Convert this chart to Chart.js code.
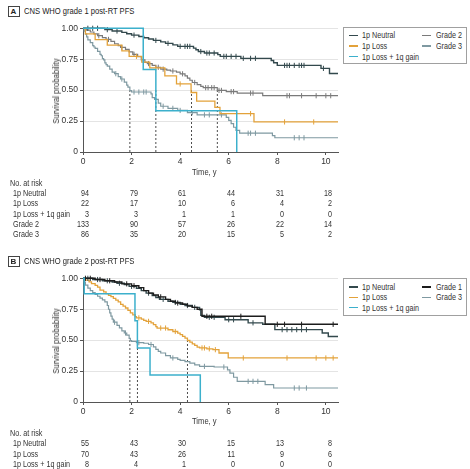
<!DOCTYPE html>
<html><head><meta charset="utf-8">
<script src="https://cdn.jsdelivr.net/npm/chart.js@4/dist/chart.umd.min.js"></script>
<style>
body{margin:0;background:#fff;}
#page{position:relative;width:470px;height:469px;overflow:hidden;font-family:'Liberation Sans',Arial,sans-serif;color:#333;}
.t{position:absolute;white-space:nowrap;font-size:9px;line-height:10px;transform:scaleX(0.8);transform-origin:0 50%;}
.r{transform-origin:100% 50%;}
canvas{position:absolute;}
.lg{position:absolute;border:1.5px solid #a0a0a0;background:#fff;box-sizing:border-box;}
.sw{position:absolute;height:1.2px;width:9px;}
.box{position:absolute;border:1px solid #444;width:12px;height:11px;box-sizing:border-box;font-weight:bold;font-size:8px;line-height:9px;text-align:center;color:#222;}
.yt{position:absolute;white-space:nowrap;font-size:9.5px;line-height:10px;transform:translate(-50%,-50%) rotate(-90deg) scaleX(0.82);}
</style></head>
<body><div id="page"></div>
<script>
const FONT = "'Liberation Sans',Arial,sans-serif";
const X_TICKS = [0, 2, 4, 6, 8, 10];
const X_MAX = 10.5;
const Y_TICKS = [0, 0.25, 0.5, 0.75, 1];
const Y_LABELS = ['0', '0.25', '0.50', '0.75', '1.00'];

// Panel A series: [time, survival, censored?]
const A_neutral = [[0,1],[0.2,1,1],[0.4,1,1],[0.6,1,1],[0.9,0.989],[1.0,0.989,1],[1.2,0.978],[1.4,0.978,1],[1.6,0.967],[1.8,0.956],[2.0,0.945],[2.1,0.945,1],[2.3,0.934],[2.5,0.923],[2.7,0.913],[2.9,0.902],[3.0,0.902,1],[3.2,0.89],[3.4,0.878],[3.5,0.878,1],[3.7,0.866],[3.9,0.854],[4.0,0.854,1],[4.2,0.854,1],[4.3,0.854,1],[4.4,0.854,1],[4.55,0.84],[4.65,0.826],[4.75,0.812],[4.85,0.812,1],[5.0,0.8],[5.1,0.8,1],[5.2,0.8,1],[5.4,0.8,1],[5.55,0.787],[5.65,0.773],[5.8,0.773,1],[5.9,0.773,1],[6.1,0.773,1],[6.3,0.773,1],[6.5,0.757],[6.6,0.757,1],[6.9,0.757,1],[7.1,0.757,1],[7.75,0.74],[7.85,0.722],[8.0,0.70],[8.3,0.70,1],[8.4,0.70,1],[8.5,0.70,1],[8.7,0.70,1],[8.9,0.70,1],[9.0,0.70,1],[9.1,0.70,1],[9.8,0.676],[9.9,0.676,1],[10.15,0.635],[10.5,0.635]];
const A_loss = [[0,1],[0.1,0.955],[0.5,0.909],[1.0,0.864],[1.6,0.818],[1.9,0.773],[2.2,0.773,1],[2.42,0.727],[2.75,0.68],[3.0,0.68,1],[3.37,0.616],[3.85,0.55],[4.0,0.55,1],[4.45,0.481],[4.68,0.412],[5.43,0.36],[5.64,0.31],[6.9,0.31,1],[7.04,0.243],[8.3,0.243,1],[9.5,0.243,1],[10.5,0.243]];
const A_gain = [[0,1],[2.48,0.667],[3.0,0.333],[6.33,0]];
const A_grade2 = [[0,1],[0.15,0.985],[0.3,0.97],[0.45,0.955],[0.6,0.94],[0.65,0.94,1],[0.8,0.925],[0.95,0.91],[1.05,0.91,1],[1.15,0.895],[1.3,0.875],[1.45,0.86],[1.55,0.845],[1.6,0.845,1],[1.75,0.83],[1.9,0.81],[2.05,0.79],[2.1,0.79,1],[2.25,0.77],[2.4,0.745],[2.55,0.725],[2.65,0.715],[2.7,0.715,1],[2.85,0.7],[3.0,0.685],[3.1,0.685,1],[3.2,0.67],[3.3,0.67,1],[3.45,0.662],[3.6,0.655],[3.7,0.655,1],[3.85,0.645],[4.0,0.632],[4.1,0.632,1],[4.2,0.615],[4.3,0.598],[4.4,0.58],[4.5,0.562],[4.6,0.562,1],[4.7,0.545],[4.85,0.53],[4.95,0.52],[5.05,0.52,1],[5.15,0.52,1],[5.3,0.52,1],[5.4,0.52,1],[5.53,0.498],[5.6,0.498,1],[5.7,0.498,1],[5.9,0.488],[6.1,0.488,1],[6.2,0.488,1],[6.35,0.476],[6.9,0.476,1],[7.0,0.476,1],[7.4,0.455],[8.4,0.455,1],[8.5,0.455,1],[9.0,0.455,1],[9.6,0.455,1],[10.0,0.455,1],[10.2,0.455,1],[10.5,0.455]];
const A_grade3 = [[0,1],[0.05,0.977],[0.1,0.953],[0.15,0.93],[0.2,0.907],[0.3,0.884],[0.4,0.86],[0.45,0.849],[0.5,0.837],[0.6,0.814],[0.7,0.79],[0.75,0.778],[0.8,0.755],[0.85,0.744],[0.9,0.72],[0.95,0.707],[1.0,0.695],[1.1,0.67],[1.2,0.645],[1.3,0.633],[1.35,0.633,1],[1.45,0.61],[1.55,0.59],[1.6,0.59,1],[1.7,0.565],[1.8,0.54],[1.85,0.525],[1.93,0.497],[2.0,0.485],[2.1,0.485,1],[2.3,0.485,1],[2.5,0.485,1],[2.6,0.485,1],[2.8,0.47],[2.85,0.44],[2.95,0.425],[3.1,0.395],[3.2,0.37],[3.3,0.37,1],[3.5,0.353],[3.7,0.353,1],[3.9,0.336],[4.0,0.336,1],[4.3,0.318],[4.5,0.318,1],[4.7,0.3],[5.0,0.3,1],[5.2,0.3,1],[5.7,0.3,1],[5.9,0.28],[6.0,0.255],[6.1,0.23],[6.2,0.2],[6.3,0.175],[6.45,0.152],[6.8,0.152,1],[6.9,0.152,1],[7.1,0.152,1],[7.8,0.132],[7.9,0.115],[8.7,0.115,1],[8.9,0.115,1],[9.1,0.115,1],[10.5,0.115]];
const A_medians = [1.93, 3.0, 4.47, 5.53];

// Panel B series
const B_neutral = [[0,1],[0.2,1,1],[0.4,0.99],[0.6,0.99,1],[0.8,0.98],[1.0,0.98,1],[1.2,0.97],[1.4,0.96],[1.5,0.96,1],[1.7,0.95],[1.9,0.935],[2.0,0.935,1],[2.2,0.92],[2.4,0.9],[2.6,0.88],[2.7,0.88,1],[2.85,0.86],[3.0,0.845],[3.15,0.83],[3.3,0.83,1],[3.5,0.815],[3.7,0.805],[3.8,0.805,1],[4.0,0.79],[4.2,0.78],[4.3,0.78,1],[4.5,0.765],[4.6,0.765,1],[4.8,0.745],[4.85,0.7],[5.0,0.685],[5.2,0.685,1],[5.4,0.685,1],[5.85,0.665],[6.0,0.665,1],[6.2,0.665,1],[6.8,0.64],[7.0,0.64,1],[7.4,0.628],[7.9,0.585],[8.2,0.585,1],[8.4,0.585,1],[8.6,0.585,1],[8.8,0.585,1],[9.0,0.585,1],[9.2,0.585,1],[9.85,0.558],[10.1,0.53],[10.5,0.53]];
const B_grade1 = [[0,1],[0.1,1,1],[0.3,1,1],[0.5,0.99],[0.7,0.99,1],[0.9,0.98],[1.1,0.98,1],[1.3,0.97],[1.6,0.955],[1.8,0.955,1],[2.0,0.94],[2.1,0.94,1],[2.3,0.925],[2.5,0.9],[2.7,0.88],[2.9,0.865],[3.1,0.85],[3.2,0.85,1],[3.4,0.83],[3.6,0.815],[3.8,0.8],[3.9,0.8,1],[4.1,0.79],[4.3,0.775],[4.5,0.765],[4.7,0.75],[4.9,0.693],[5.1,0.693,1],[5.3,0.693,1],[6.5,0.693,1],[7.5,0.628],[8.0,0.628,1],[8.3,0.628,1],[9.0,0.628,1],[10.3,0.628,1],[10.5,0.628]];
const B_loss = [[0,1],[0.1,0.986],[0.25,0.971],[0.35,0.957],[0.5,0.943],[0.6,0.929],[0.7,0.905],[0.85,0.89],[0.95,0.876],[1.05,0.862],[1.15,0.852],[1.25,0.838],[1.35,0.824],[1.45,0.81],[1.55,0.79],[1.65,0.775],[1.75,0.76],[1.85,0.74],[1.95,0.72],[2.05,0.705],[2.15,0.69],[2.2,0.68],[2.3,0.68,1],[2.4,0.67],[2.5,0.66],[2.6,0.652],[2.7,0.652,1],[2.8,0.64],[2.9,0.625],[3.0,0.61],[3.05,0.598],[3.2,0.598,1],[3.4,0.598,1],[3.5,0.584],[3.7,0.57],[3.8,0.57,1],[3.9,0.557],[4.0,0.544],[4.1,0.53],[4.2,0.517],[4.3,0.497],[4.4,0.484],[4.5,0.47],[4.6,0.457],[4.7,0.444],[4.8,0.437],[4.9,0.437,1],[5.0,0.437,1],[5.1,0.43],[5.2,0.43,1],[5.35,0.423],[5.45,0.423,1],[5.6,0.396],[5.98,0.356],[6.6,0.356,1],[8.4,0.356,1],[9.6,0.356,1],[10.0,0.356,1],[10.3,0.356,1],[10.5,0.356]];
const B_gain = [[0,1],[0.05,0.875],[2.14,0.656],[2.24,0.4375],[2.76,0.219],[4.83,0]];
const B_grade3 = [[0,1],[0.05,0.97],[0.1,0.945],[0.2,0.92],[0.3,0.9],[0.4,0.885],[0.5,0.87],[0.6,0.855],[0.7,0.84],[0.8,0.825],[0.9,0.81],[1.0,0.78],[1.05,0.75],[1.1,0.72],[1.15,0.695],[1.2,0.67],[1.25,0.645],[1.3,0.645,1],[1.4,0.62],[1.5,0.6],[1.6,0.575],[1.7,0.558],[1.75,0.558,1],[1.8,0.54],[1.9,0.515],[1.95,0.497],[2.0,0.49],[2.2,0.48],[2.3,0.48,1],[2.5,0.475],[2.7,0.465],[2.8,0.465,1],[2.9,0.445],[3.0,0.425],[3.1,0.41],[3.2,0.396],[3.4,0.375],[3.6,0.356],[3.7,0.356,1],[3.9,0.345],[4.0,0.337],[4.2,0.326],[4.4,0.315],[4.6,0.3],[4.8,0.288],[5.0,0.288,1],[5.4,0.283],[5.8,0.283,1],[5.95,0.26],[6.05,0.234],[6.2,0.2],[6.35,0.167],[6.8,0.167,1],[7.0,0.167,1],[7.2,0.167,1],[7.5,0.14],[7.85,0.113],[8.7,0.113,1],[8.9,0.113,1],[9.2,0.113,1],[10.5,0.113]];
const B_medians = [1.93, 2.24, 4.3];

// Risk tables
const RISK_TIMES = [0, 2, 4, 6, 8, 10];
const A_riskLabels = ['1p Neutral', '1p Loss', '1p Loss + 1q gain', 'Grade 2', 'Grade 3'];
const A_risk_neutral = [94, 79, 61, 44, 31, 18];
const A_risk_loss = [22, 17, 10, 6, 4, 2];
const A_risk_gain = [3, 3, 1, 1, 0, 0];
const A_risk_grade2 = [133, 90, 57, 26, 22, 14];
const A_risk_grade3 = [86, 35, 20, 15, 5, 2];
const B_riskLabels = ['1p Neutral', '1p Loss', '1p Loss + 1q gain'];
const B_risk_neutral = [55, 43, 30, 15, 13, 8];
const B_risk_loss = [70, 43, 26, 11, 9, 6];
const B_risk_gain = [8, 4, 1, 0, 0, 0];

const COL = {neutral:'#33494d', loss:'#e3a23a', gain:'#3cb0cc', grade2:'#7a7a7a', grade3:'#7f99a1', grade1:'#1c1c1c'};

const page = document.getElementById('page');
function txt(s, left, top, extra, cls) {
  const d = document.createElement('div');
  d.className = 't' + (cls ? ' ' + cls : ''); d.textContent = s;
  d.style.left = left + 'px'; d.style.top = top + 'px';
  if (extra) Object.assign(d.style, extra);
  page.appendChild(d); return d;
}

function panel(p) {
  const b = document.createElement('div'); b.className = 'box'; b.textContent = p.letter;
  b.style.left = '7.5px'; b.style.top = p.titleY - 5.5 + 'px'; page.appendChild(b);
  txt(p.title, 24, p.titleY - 5.5, {fontSize:'9.5px', color:'#222'});

  const cv = document.createElement('canvas');
  cv.width = 345; cv.height = 164;
  cv.style.left = '0px'; cv.style.top = p.canvasTop + 'px';
  page.appendChild(cv);
  const datasets = p.series.map(s => ({
    label: s.label,
    data: s.data.map(q => ({x: q[0], y: q[1], c: q[2] || 0})),
    borderColor: s.color, backgroundColor: s.color, borderWidth: s.w,
    stepped: true, fill: false, tension: 0,
    pointStyle: 'line', pointRotation: 90, pointBorderColor: s.color, pointBorderWidth: 1,
    pointRadius: c => (c.raw && c.raw.c) ? 2.6 : 0, pointHoverRadius: 0, clip: 4
  }));
  p.medians.forEach(m => datasets.push({
    data: [{x: m, y: 0}, {x: m, y: 0.5}], borderColor: '#3a3a3a', borderWidth: 0.9,
    borderDash: [2, 2], pointRadius: 0, clip: 4
  }));
  const chart = new Chart(cv, {
    type: 'line', data: {datasets},
    options: {
      responsive: false, animation: false, events: [],
      layout: {padding: {left: 48, right: 7, top: p.padTop, bottom: 0}},
      plugins: {legend: {display: false}, tooltip: {enabled: false}},
      scales: {
        x: {type: 'linear', min: 0, max: X_MAX,
          afterBuildTicks: a => { a.ticks = X_TICKS.map(v => ({value: v})); },
          afterFit: s => { s.height = 30; },
          grid: {drawOnChartArea: false, tickLength: 3, tickColor: '#555'},
          border: {color: '#555', width: 1},
          ticks: {padding: 2, color: '#333', maxRotation: 0, font: {family: FONT, size: 8.5}}},
        y: {type: 'linear', min: 0, max: 1,
          afterBuildTicks: a => { a.ticks = Y_TICKS.map(v => ({value: v})); },
          afterFit: s => { s.width = 35; },
          grid: {color: '#e4e4e4', tickLength: 3, tickColor: '#555'},
          border: {color: '#555', width: 1},
          ticks: {padding: 2, color: '#333', font: {family: FONT, size: 8.5}, callback: (v, i) => Y_LABELS[i]}}
      }
    }
  });

  const yt = document.createElement('div'); yt.className = 'yt'; yt.textContent = 'Survival probability';
  yt.style.left = '55.5px'; yt.style.top = p.yTitleY + 'px'; page.appendChild(yt);

  txt('Time, y', 191.5, p.xTitleY - 5, {fontSize: '9.5px'});

  const lg = document.createElement('div'); lg.className = 'lg';
  Object.assign(lg.style, {left: '342.5px', top: p.legTop + 'px', width: '124px', height: p.legH + 'px'});
  page.appendChild(lg);
  p.legend.forEach(e => {
    const sw = document.createElement('div'); sw.className = 'sw';
    sw.style.background = e.color; sw.style.left = e.x - 13.5 + 'px'; sw.style.top = e.y - 0.6 + 'px';
    page.appendChild(sw);
    txt(e.label, e.x, e.y - 5, {fontSize: '9px'});
  });

  const xs = chart.scales.x;
  txt('No. at risk', 9.5, p.riskTop - 5);
  p.risk.forEach((r, ri) => {
    const y = p.riskTop + p.rowH * (ri + 1);
    txt(r.label, 12.5, y - 5);
    r.values.forEach((v, i) => {
      const px = xs.getPixelForValue(RISK_TIMES[i]) + 6.3;
      txt(String(v), px - 30, y - 5, {width: '30px', textAlign: 'right'}, 'r');
    });
  });
}

panel({
  letter: 'A', title: 'CNS WHO grade 1 post-RT PFS', titleY: 11,
  canvasTop: 18, padTop: 10.3, xTitleY: 172.3, yTitleY: 90.5,
  series: [
    {label: '1p Loss + 1q gain', data: A_gain, color: COL.gain, w: 1.5},
    {label: '1p Neutral', data: A_neutral, color: COL.neutral, w: 1.4},
    {label: '1p Loss', data: A_loss, color: COL.loss, w: 1.3},
    {label: 'Grade 2', data: A_grade2, color: COL.grade2, w: 1.2},
    {label: 'Grade 3', data: A_grade3, color: COL.grade3, w: 1.2}
  ],
  medians: A_medians,
  legTop: 26.7, legH: 37.6,
  legend: [
    {label: '1p Neutral', color: COL.neutral, x: 362, y: 35.3},
    {label: '1p Loss', color: COL.loss, x: 362, y: 46},
    {label: '1p Loss + 1q gain', color: COL.gain, x: 362, y: 56.7},
    {label: 'Grade 2', color: COL.grade2, x: 435.5, y: 35.3},
    {label: 'Grade 3', color: COL.grade3, x: 435.5, y: 46}
  ],
  riskTop: 182.7, rowH: 10.35,
  risk: [
    {label: A_riskLabels[0], values: A_risk_neutral},
    {label: A_riskLabels[1], values: A_risk_loss},
    {label: A_riskLabels[2], values: A_risk_gain},
    {label: A_riskLabels[3], values: A_risk_grade2},
    {label: A_riskLabels[4], values: A_risk_grade3}
  ]
});

panel({
  letter: 'B', title: 'CNS WHO grade 2 post-RT PFS', titleY: 261,
  canvasTop: 268, padTop: 10.3, xTitleY: 420.7, yTitleY: 340.5,
  series: [
    {label: '1p Loss + 1q gain', data: B_gain, color: COL.gain, w: 1.5},
    {label: 'Grade 1', data: B_grade1, color: COL.grade1, w: 1.4},
    {label: '1p Neutral', data: B_neutral, color: COL.neutral, w: 1.4},
    {label: '1p Loss', data: B_loss, color: COL.loss, w: 1.3},
    {label: 'Grade 3', data: B_grade3, color: COL.grade3, w: 1.2}
  ],
  medians: B_medians,
  legTop: 277.7, legH: 38.3,
  legend: [
    {label: '1p Neutral', color: COL.neutral, x: 362, y: 287},
    {label: '1p Loss', color: COL.loss, x: 362, y: 297.3},
    {label: '1p Loss + 1q gain', color: COL.gain, x: 362, y: 307.7},
    {label: 'Grade 1', color: COL.grade1, x: 435.5, y: 287},
    {label: 'Grade 3', color: COL.grade3, x: 435.5, y: 297.3}
  ],
  riskTop: 432.7, rowH: 10.4,
  risk: [
    {label: B_riskLabels[0], values: B_risk_neutral},
    {label: B_riskLabels[1], values: B_risk_loss},
    {label: B_riskLabels[2], values: B_risk_gain}
  ]
});
</script>
</body></html>
